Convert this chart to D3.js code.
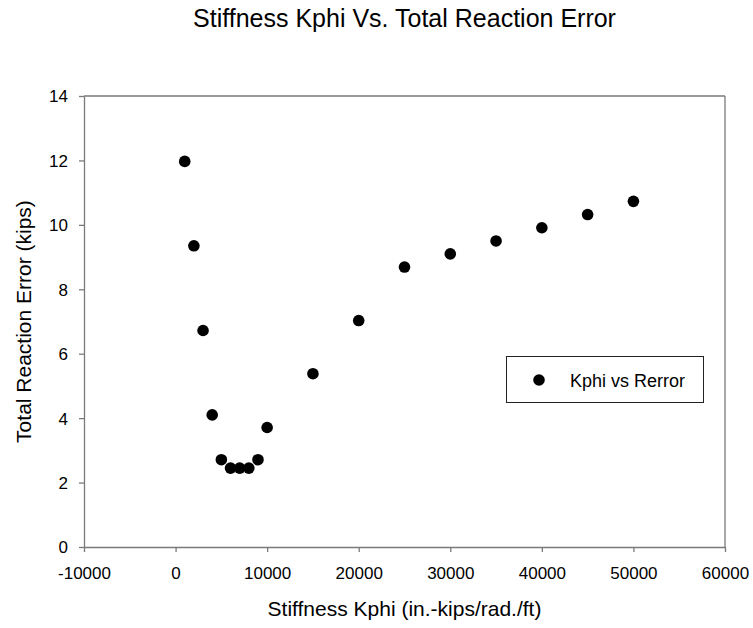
<!DOCTYPE html>
<html><head><meta charset="utf-8">
<script src="https://cdn.jsdelivr.net/npm/d3@7"></script>
<style>body{margin:0;background:#fff}svg{display:block}text{font-family:Arial,"Liberation Sans",sans-serif;fill:#000}</style>
</head><body>
<script>
const kphi = [1000,2000,3000,4000,5000,6000,7000,8000,9000,10000,15000,20000,25000,30000,35000,40000,45000,50000];
const rerror = [11.97,9.35,6.72,4.10,2.71,2.45,2.45,2.45,2.71,3.71,5.38,7.03,8.69,9.10,9.50,9.91,10.32,10.73];
const xTicks = [-10000,0,10000,20000,30000,40000,50000,60000];
const yTicks = [0,2,4,6,8,10,12,14];
const title = "Stiffness Kphi Vs. Total Reaction Error";
const xLabel = "Stiffness Kphi (in.-kips/rad./ft)";
const yLabel = "Total Reaction Error (kips)";
const seriesName = "Kphi vs Rerror";

const W=753,H=628;
const L=84,R=725,T=96,B=547;
const svg=d3.select("body").append("svg").attr("width",W).attr("height",H);
const x=d3.scaleLinear().domain([-10000,60000]).range([L,R]);
const y=d3.scaleLinear().domain([0,14]).range([B,T]);
const axCol="#7a7a7a";
const fmt=d=>String(d);

svg.append("text").attr("x",(L+R)/2).attr("y",27).attr("text-anchor","middle").style("font-size","25px").text(title);

svg.append("line").attr("x1",L).attr("x2",R).attr("y1",T).attr("y2",T).attr("stroke",axCol).attr("stroke-width",1.3);
svg.append("line").attr("x1",R).attr("x2",R).attr("y1",T).attr("y2",B).attr("stroke",axCol).attr("stroke-width",1.3);

const xa=svg.append("g").attr("transform",`translate(0,${B})`).call(d3.axisBottom(x).tickValues(xTicks).tickFormat(fmt).tickSize(5).tickSizeOuter(0));
const ya=svg.append("g").attr("transform",`translate(${L},0)`).call(d3.axisLeft(y).tickValues(yTicks).tickFormat(fmt).tickSize(5).tickSizeOuter(0));
[xa,ya].forEach(a=>{a.selectAll("path,line").attr("stroke",axCol).attr("stroke-width",1.3);a.selectAll("text").style("font-size","17px").attr("fill","#000").style("font-family","Arial,'Liberation Sans',sans-serif");});
xa.selectAll("text").attr("y",32).attr("dy",0);
ya.selectAll("text").attr("x",-16).attr("dy","0.35em");

svg.append("text").attr("x",(L+R)/2).attr("y",616).attr("text-anchor","middle").style("font-size","21px").text(xLabel);
svg.append("text").attr("transform",`translate(31,${(T+B)/2}) rotate(-90)`).attr("text-anchor","middle").style("font-size","21px").text(yLabel);

svg.append("g").selectAll("circle").data(kphi).join("circle")
 .attr("cx",d=>x(d)).attr("cy",(d,i)=>y(rerror[i])).attr("r",5.8).attr("fill","#000");

const lg=svg.append("g");
lg.append("rect").attr("x",506.5).attr("y",356.5).attr("width",197).attr("height",46).attr("fill","#fff").attr("stroke","#222").attr("stroke-width",1);
lg.append("circle").attr("cx",539).attr("cy",380).attr("r",5.8).attr("fill","#000");
lg.append("text").attr("x",570).attr("y",386.5).style("font-size","18px").text(seriesName);
</script>
</body></html>
